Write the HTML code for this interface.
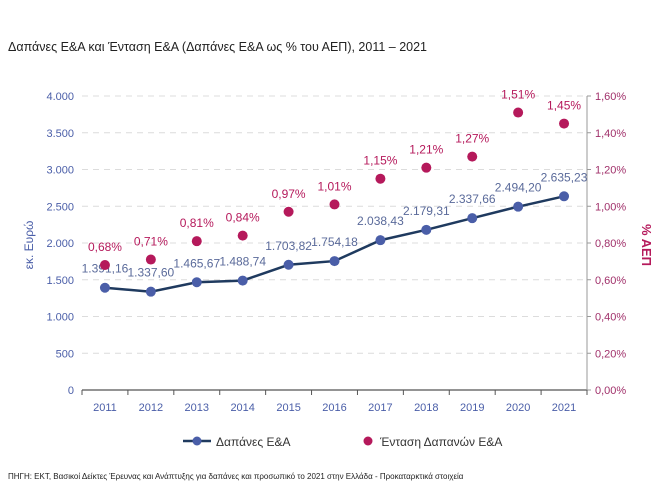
<!DOCTYPE html>
<html><head><meta charset="utf-8"><style>
body{margin:0;background:#fff;width:665px;height:484px;overflow:hidden;font-family:"Liberation Sans","DejaVu Sans",sans-serif}
svg text{font-family:"Liberation Sans","DejaVu Sans",sans-serif}
</style></head><body>
<svg width="665" height="484">
<text x="8" y="51" font-size="12.5" fill="#222">Δαπάνες Ε&amp;Α και Ένταση Ε&amp;Α (Δαπάνες Ε&amp;Α ως % του ΑΕΠ), 2011 – 2021</text>
<g id="grid"></g><g id="axes"></g><g id="marks"></g>
<text transform="translate(33,245) rotate(-90)" text-anchor="middle" font-size="12" fill="#4a5ea8">εκ. Ευρώ</text>
<text transform="translate(642,245) rotate(90)" text-anchor="middle" font-size="13" font-weight="bold" fill="#b5195b">% ΑΕΠ</text>
<g>
<line x1="183" y1="441" x2="211" y2="441" stroke="#1f3a5f" stroke-width="2.5"/>
<circle cx="197" cy="441" r="4.5" fill="#4a5ea8"/>
<text x="216" y="446" font-size="12" fill="#333">Δαπάνες Ε&amp;Α</text>
<circle cx="368" cy="441" r="4.5" fill="#b5195b"/>
<text x="380" y="446" font-size="12" fill="#333">Ένταση Δαπανών Ε&amp;Α</text>
</g>
<text x="8" y="479" font-size="8" fill="#222">ΠΗΓΗ: ΕΚΤ, Βασικοί Δείκτες Έρευνας και Ανάπτυξης για δαπάνες και προσωπικό το 2021 στην Ελλάδα - Προκαταρκτικά στοιχεία</text>
</svg>
<script>
const years=["2011","2012","2013","2014","2015","2016","2017","2018","2019","2020","2021"];
const spending=[1391.16,1337.60,1465.67,1488.74,1703.82,1754.18,2038.43,2179.31,2337.66,2494.20,2635.23];
const spendingLabels=["1.391,16","1.337,60","1.465,67","1.488,74","1.703,82","1.754,18","2.038,43","2.179,31","2.337,66","2.494,20","2.635,23"];
const intensity=[0.68,0.71,0.81,0.84,0.97,1.01,1.15,1.21,1.27,1.51,1.45];
const intensityLabels=["0,68%","0,71%","0,81%","0,84%","0,97%","1,01%","1,15%","1,21%","1,27%","1,51%","1,45%"];
const leftTicks=[0,500,1000,1500,2000,2500,3000,3500,4000];
const leftTickLabels=["0","500","1.000","1.500","2.000","2.500","3.000","3.500","4.000"];
const rightTicks=[0,0.2,0.4,0.6,0.8,1.0,1.2,1.4,1.6];
const rightTickLabels=["0,00%","0,20%","0,40%","0,60%","0,80%","1,00%","1,20%","1,40%","1,60%"];
const NS="http://www.w3.org/2000/svg";
const X0=82,X1=587,Y0=390,Y1=96;
const step=(X1-X0)/years.length;
const xc=i=>X0+step*(i+0.5);
const yl=v=>Y0-(v/4000)*(Y0-Y1);
const yr=v=>Y0-(v/1.6)*(Y0-Y1);
function mk(tag,attrs,parent,text){const e=document.createElementNS(NS,tag);for(const k in attrs)e.setAttribute(k,attrs[k]);if(text!==undefined)e.textContent=text;document.getElementById(parent).appendChild(e);return e;}
leftTicks.forEach((t,i)=>{
  if(t>0){const g=mk('line',{x1:X0,x2:X1,y1:yl(t),y2:yl(t),stroke:'#dcdcdc','stroke-dasharray':'6,5'},'grid');
  
  }
  const l=mk('text',{x:X0-8,y:yl(t)+4,'text-anchor':'end','font-size':'11',fill:'#4a5ea8'},'axes',leftTickLabels[i]);
  
  
});
rightTicks.forEach((t,i)=>{
  mk('line',{x1:X1,x2:X1+4,y1:yr(t),y2:yr(t),stroke:'#999'},'axes');
  const l=mk('text',{x:X1+8,y:yr(t)+4,'font-size':'11',fill:'#a0306a'},'axes',rightTickLabels[i]);
  
  
});
mk('line',{x1:X0,x2:X1,y1:Y0,y2:Y0,stroke:'#555','stroke-width':1.2},'axes');
mk('line',{x1:X1,x2:X1,y1:Y1,y2:Y0,stroke:'#999'},'axes');
for(let i=0;i<=years.length;i++)mk('line',{x1:X0+step*i,x2:X0+step*i,y1:Y0,y2:Y0+5,stroke:'#555'},'axes');
years.forEach((y,i)=>{
  const l=mk('text',{x:xc(i),y:Y0+21,'text-anchor':'middle','font-size':'11',fill:'#4a5ea8'},'axes',y);
  
  
});
const line=mk('polyline',{points:spending.map((v,i)=>xc(i)+','+yl(v)).join(' '),fill:'none',stroke:'#1f3a5f','stroke-width':2.5},'marks');


spending.forEach((v,i)=>{
  const c=mk('circle',{cx:xc(i),cy:yl(v),r:5,fill:'#4a5ea8'},'marks');
  
  
  const t=mk('text',{x:xc(i),y:yl(v)-15,'text-anchor':'middle','font-size':'12',fill:'#5a6a9a'},'marks',spendingLabels[i]);
  
  
});
intensity.forEach((v,i)=>{
  const c=mk('circle',{cx:xc(i),cy:yr(v),r:5,fill:'#b5195b'},'marks');
  
  
  const t=mk('text',{x:xc(i),y:yr(v)-14,'text-anchor':'middle','font-size':'12',fill:'#b5195b'},'marks',intensityLabels[i]);
  
  
});
</script>
</body></html>
